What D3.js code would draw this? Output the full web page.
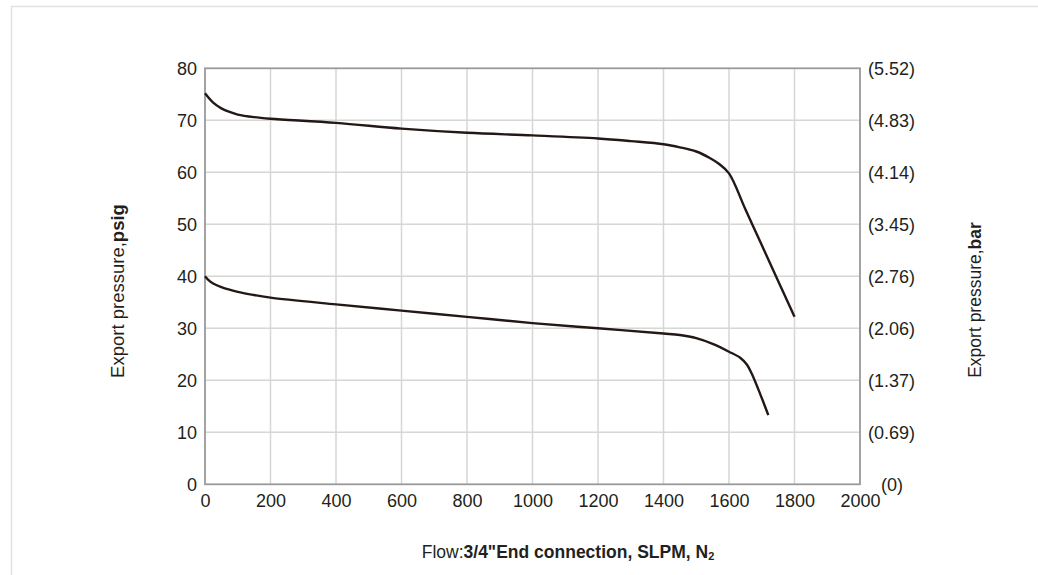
<!DOCTYPE html>
<html>
<head>
<meta charset="utf-8">
<script src="https://cdn.jsdelivr.net/npm/d3@7"></script>
<style>
  body { margin: 0; background: #fff; }
  svg text { font-family: "Liberation Sans", Arial, sans-serif; fill: #231f20; }
</style>
</head>
<body>
<script>
// flow (SLPM) vs export pressure (psig)
const flowHigh = [0, 25, 50, 75, 100, 150, 200, 400, 600, 800, 1000, 1200, 1300, 1400, 1450, 1500, 1540, 1570, 1600, 1650, 1700, 1750, 1800];
const psigHigh = [75.2, 73.4, 72.3, 71.6, 71.1, 70.6, 70.3, 69.5, 68.4, 67.6, 67.1, 66.5, 66.0, 65.4, 64.8, 64.0, 62.8, 61.6, 59.8, 52.9, 46.0, 39.1, 32.2];

const flowLow = [0, 10, 25, 50, 100, 150, 200, 400, 600, 800, 1000, 1200, 1400, 1450, 1500, 1550, 1600, 1635, 1655, 1670, 1695, 1720];
const psigLow = [40.0, 39.3, 38.6, 37.9, 37.0, 36.4, 35.9, 34.6, 33.4, 32.2, 31.0, 30.0, 29.0, 28.7, 28.1, 27.0, 25.5, 24.3, 23.0, 21.2, 17.4, 13.3];

const xTicks = [0, 200, 400, 600, 800, 1000, 1200, 1400, 1600, 1800, 2000];
const yTicks = [0, 10, 20, 30, 40, 50, 60, 70, 80];
const barLabels = ["(0)", "(0.69)", "(1.37)", "(2.06)", "(2.76)", "(3.45)", "(4.14)", "(4.83)", "(5.52)"];

const W = 1038, H = 575;
const m = {top: 68.3, left: 205, right: 178, bottom: 90.7};
const iw = W - m.left - m.right, ih = H - m.top - m.bottom;

const svg = d3.select("body").append("svg").attr("width", W).attr("height", H);

// faint outer frame
svg.append("path")
  .attr("d", "M11.5," + H + "V6.5H" + W)
  .attr("fill", "none").attr("stroke", "#e2e2e2").attr("stroke-width", 1.5);

const g = svg.append("g").attr("transform", `translate(${m.left},${m.top})`);

const x = d3.scaleLinear().domain([0, 2000]).range([0, iw]);
const y = d3.scaleLinear().domain([0, 80]).range([ih, 0]);

// grid
g.append("g").selectAll("line").data(xTicks.slice(1, -1)).join("line")
  .attr("x1", d => x(d)).attr("x2", d => x(d)).attr("y1", 0).attr("y2", ih)
  .attr("stroke", "#d6d6d6").attr("stroke-width", 1.5);
g.append("g").selectAll("line").data(yTicks.slice(1, -1)).join("line")
  .attr("x1", 0).attr("x2", iw).attr("y1", d => y(d)).attr("y2", d => y(d))
  .attr("stroke", "#d6d6d6").attr("stroke-width", 1.5);

// frame of plot
g.append("rect").attr("width", iw).attr("height", ih)
  .attr("fill", "none").attr("stroke", "#9a9a9a").attr("stroke-width", 1.8);

const axisStyle = sel => {
  sel.select(".domain").remove();
  sel.selectAll(".tick line").remove();
  sel.selectAll("text").attr("font-size", 18).attr("fill", "#231f20")
    .style("font-family", "'Liberation Sans', Arial, sans-serif");
};

g.append("g").attr("transform", `translate(0,${ih})`)
  .call(d3.axisBottom(x).tickValues(xTicks).tickSize(0).tickPadding(10)
    .tickFormat(d3.format("d")))
  .call(axisStyle);

g.append("g")
  .call(d3.axisLeft(y).tickValues(yTicks).tickSize(0).tickPadding(8))
  .call(axisStyle);

const right = g.append("g").attr("transform", `translate(${iw},0)`)
  .call(d3.axisRight(y).tickValues(yTicks).tickSize(0).tickPadding(8)
    .tickFormat((d, i) => barLabels[i]))
  .call(axisStyle);
right.selectAll(".tick").filter(d => d === 0).select("text").attr("dx", 13);

// curves
const line = d3.line().x(d => x(d[0])).y(d => y(d[1])).curve(d3.curveCatmullRom.alpha(0.5));
[[flowHigh, psigHigh], [flowLow, psigLow]].forEach(([fx, py]) => {
  g.append("path").datum(d3.zip(fx, py))
    .attr("d", line).attr("fill", "none")
    .attr("stroke", "#231815").attr("stroke-width", 2.4)
    .attr("stroke-linejoin", "round");
});

// titles
const lt = svg.append("text").attr("font-size", 18.5)
  .attr("transform", "translate(124,291) rotate(-90)").attr("text-anchor", "middle");
lt.append("tspan").text("Export pressure,");
lt.append("tspan").attr("font-weight", "bold").text("psig");

const rt = svg.append("text").attr("font-size", 17.5)
  .attr("transform", "translate(981,300) rotate(-90)").attr("text-anchor", "middle");
rt.append("tspan").text("Export pressure,");
rt.append("tspan").attr("font-weight", "bold").text("bar");

const xt = svg.append("text").attr("font-size", 17.5)
  .attr("x", 568).attr("y", 558).attr("text-anchor", "middle");
xt.append("tspan").text("Flow:");
xt.append("tspan").attr("font-weight", "bold").text("3/4\"End connection, SLPM, N");
xt.append("tspan").attr("font-weight", "bold").attr("font-size", 11).attr("dy", 2).text("2");
</script>
</body>
</html>
